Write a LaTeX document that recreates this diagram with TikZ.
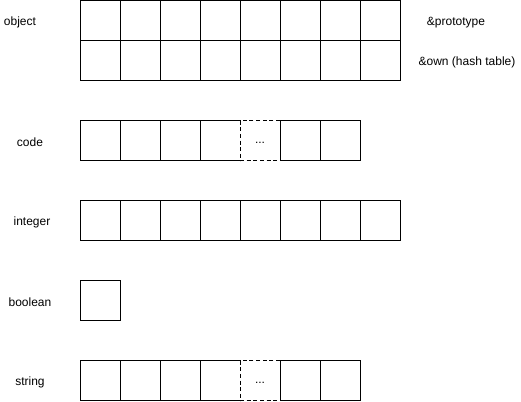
\documentclass[tikz,border=0pt]{standalone}
\usepackage{fontspec}
\setmainfont{Liberation Sans}
\usepackage{tikz}

\tikzset{
  cell/.style={draw, line width=0.75, minimum width=30pt, minimum height=30pt, inner sep=0pt, outer sep=0pt},
  gapcell/.style={cell, fill=white, densely dashed},
  lbl/.style={inner sep=0.75pt, font=\fontsize{9}{11}\selectfont}
}

\begin{document}
\begin{tikzpicture}[x=0.75pt,y=0.75pt,yscale=-1,xscale=1]
        \useasboundingbox (0,0) rectangle (521,401);

        % object: two rows of eight
        \foreach \i in {1,...,8} {
          \node [cell] (obj-a\i) at (60+40*\i,20.5) {};
          \node [cell] (obj-b\i) at (60+40*\i,60.5) {};
        }

        % code
        \foreach \i in {1,2,3,4,6,7} {
          \node [cell] (code\i) at (60+40*\i,140.5) {};
        }
        \node [gapcell] (code5) at (260,140.5) {};
        \draw (260,142.5) node [lbl] (codedots) {...};

        % integer
        \foreach \i in {1,...,8} {
          \node [cell] (int\i) at (60+40*\i,220.5) {};
        }

        % boolean
        \node [cell] (bool1) at (100,300.5) {};

        % string
        \foreach \i in {1,2,3,4,6,7} {
          \node [cell] (str\i) at (60+40*\i,380.5) {};
        }
        \node [gapcell] (str5) at (260,380.5) {};
        \draw (260,382.5) node [lbl] (strdots) {...};

        \draw (20,22.5) node [lbl] (objlbl) {object};
        \draw (30,142.5) node [lbl] (codelbl) {code};
        \draw (32,222.5) node [lbl] (intlbl) {integer};
        \draw (30,302.5) node [lbl] (boollbl) {boolean};
        \draw (30,382.5) node [lbl] (strlbl) {string};
        \draw (456,22.5) node [lbl] (protolbl) {\&prototype};
        \draw (467,62.5) node [lbl] (ownlbl) {\&own (hash table)};
    \end{tikzpicture}
\end{document}
